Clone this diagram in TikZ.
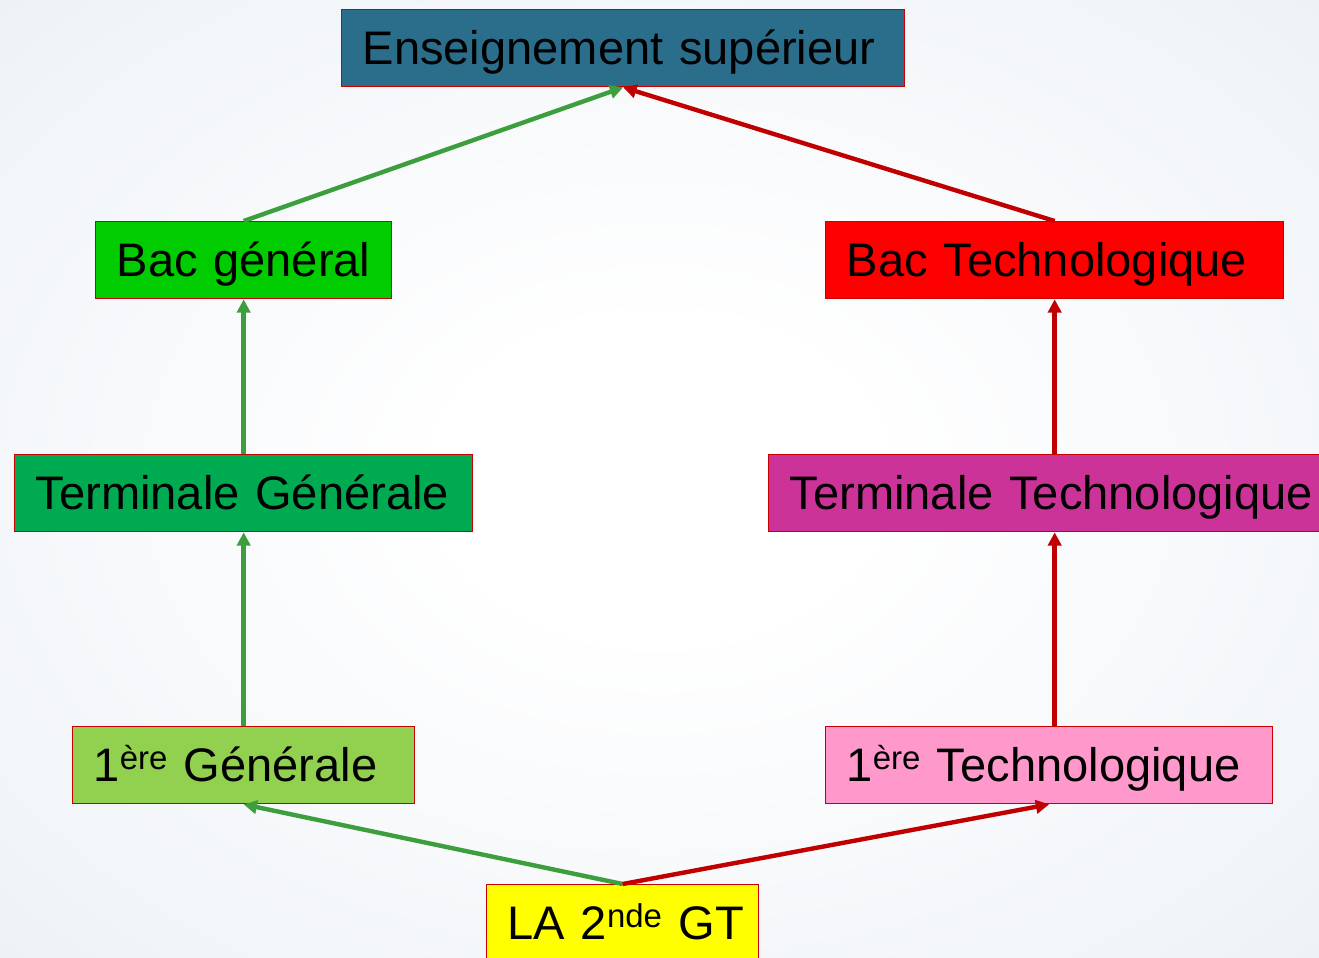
\documentclass[tikz,border=0pt]{standalone}
\usepackage{fontspec}
\setmainfont{Liberation Sans}[WordSpace=0.8]
\usetikzlibrary{arrows.meta,calc}
\definecolor{supc}{RGB}{42,110,140}
\definecolor{bacgc}{RGB}{0,204,0}
\definecolor{bactc}{RGB}{255,0,0}
\definecolor{termgc}{RGB}{0,170,80}
\definecolor{termtc}{RGB}{204,51,153}
\definecolor{premgc}{RGB}{146,208,80}
\definecolor{premtc}{RGB}{255,153,204}
\definecolor{secc}{RGB}{255,255,0}
\definecolor{borderc}{RGB}{200,0,0}
\definecolor{garrow}{RGB}{60,158,60}
\definecolor{rarrow}{RGB}{192,0,0}
\definecolor{bgouter}{RGB}{222,230,239}
\pgfdeclareradialshading{bgshade}{\pgfpoint{0bp}{0bp}}{color(0bp)=(white); color(8bp)=(white); color(45bp)=(bgouter!70!white); color(72bp)=(bgouter)}
\tikzset{
  box/.style={draw=borderc, line width=1pt, anchor=north west, minimum height={77*0.75pt},
    inner xsep={21*0.75pt}, inner ysep=0pt, align=left, text height={33*0.75pt}, text depth=0pt,
    font=\fontsize{35.3pt}{40pt}\selectfont},
  garr/.style={draw=garrow, line width=3.3pt, -{Triangle[length=10pt,width=10pt]}},
  rarr/.style={draw=rarrow, line width=3.3pt, -{Triangle[length=10pt,width=10pt]}}
}
\begin{document}
\begin{tikzpicture}[x=0.75pt,y=-0.75pt]
\useasboundingbox (0,0) rectangle (1319,957);
\clip (0,0) rectangle (1319,957);
\shade[shading=bgshade] (0,0) rectangle (1319,957);
\node[box, fill=supc, text width={(563-42)*0.75pt}] (sup) at (341,9) {\mbox{Enseignement supérieur}};
\node[box, fill=bacgc, text width={(296-42)*0.75pt}] (bacg) at (95,221) {\mbox{Bac général}};
\node[box, fill=bactc, text width={(458-42)*0.75pt}] (bact) at (825,221) {\mbox{Bac Technologique}};
\node[box, fill=termgc, text width={(458-42)*0.75pt}] (termg) at (14,454) {\mbox{Terminale Générale}};
\node[box, fill=termtc, text width={(572-42)*0.75pt}] (termt) at (768,454) {\mbox{Terminale Technologique}};
\node[box, fill=premgc, text width={(342-42)*0.75pt}] (premg) at (72,726) {\mbox{1\textsuperscript{ère} Générale}};
\node[box, fill=premtc, text width={(447-42)*0.75pt}] (premt) at (825,726) {\mbox{1\textsuperscript{ère} Technologique}};
\node[box, fill=secc, text width={(272-42)*0.75pt}] (sec) at (486,884) {\mbox{LA 2\textsuperscript{nde} GT}};
\draw[garr] (bacg.north) -- (sup.south);
\draw[rarr] (bact.north) -- (sup.south);
\draw[garr] (termg.north) -- (bacg.south);
\draw[rarr] (termt.north -| bact.south) -- (bact.south);
\draw[garr] (premg.north) -- (termg.south);
\draw[rarr] (premt.north -| bact.south) -- (termt.south -| bact.south);
\draw[garr] (sec.north) -- (premg.south);
\draw[rarr] (sec.north) -- (premt.south);
\end{tikzpicture}
\end{document}
